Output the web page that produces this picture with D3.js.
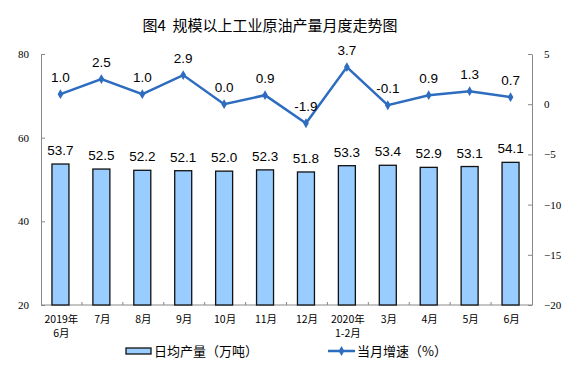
<!DOCTYPE html>
<html lang="zh">
<head>
  <meta charset="UTF-8">
  <title>规模以上工业原油产量月度走势图</title>
  <script src="https://d3js.org/d3.v7.min.js"></script>
  <style>
    body { margin: 0; background: #fff; }
    svg { display: block; }
  </style>
</head>
<body>
  <svg id="chart" width="576" height="384"></svg>
  <script>
    const months = [
      ["2019年", "6月"], ["7月"], ["8月"], ["9月"], ["10月"], ["11月"],
      ["12月"], ["2020年", "1-2月"], ["3月"], ["4月"], ["5月"], ["6月"]
    ];
    const output = [53.7, 52.5, 52.2, 52.1, 52.0, 52.3, 51.8, 53.3, 53.4, 52.9, 53.1, 54.1];
    const growth = [1.0, 2.5, 1.0, 2.9, 0.0, 0.9, -1.9, 3.7, -0.1, 0.9, 1.3, 0.7];
    const leftTicks = [20, 40, 60, 80];
    const rightTicks = [5, 0, -5, -10, -15, -20];

    const margin = { top: 54, right: 44, bottom: 79, left: 41 },
          width = 576 - margin.left - margin.right,
          height = 384 - margin.top - margin.bottom;

    const svg = d3.select("#chart");
    const g = svg.append("g")
      .attr("transform", `translate(${margin.left},${margin.top})`);

    const cjk = "'Noto Sans CJK SC', 'Noto Sans', sans-serif";
    const serif = "'Liberation Serif', 'DejaVu Serif', serif";
    const sans = "'Liberation Sans', Arial, sans-serif";
    const lineColor = "#2d6cbf";

    svg.append("text")
      .attr("x", 270)
      .attr("y", 31)
      .attr("text-anchor", "middle")
      .attr("font-family", cjk)
      .attr("font-size", "15px")
      .attr("fill", "#000")
      .text("图4\u00a0\u00a0规模以上工业原油产量月度走势图");

    const x = d3.scaleBand()
      .domain(d3.range(months.length))
      .range([0, width]);

    const yL = d3.scaleLinear().domain([20, 80]).range([height, 0]);
    const yR = d3.scaleLinear().domain([-20, 5]).range([height, 0]);

    // left axis
    const axL = g.append("g")
      .call(d3.axisLeft(yL).tickValues(leftTicks).tickSize(-4).tickPadding(12).tickSizeOuter(0));
    axL.select(".domain").attr("stroke", "#888");
    axL.selectAll(".tick line").attr("stroke", "#888");
    axL.selectAll("text").attr("font-family", serif).attr("font-size", "11px").attr("fill", "#000");

    // right axis
    const axR = g.append("g")
      .attr("transform", `translate(${width},0)`)
      .call(d3.axisRight(yR).tickValues(rightTicks).tickSize(-4).tickPadding(12).tickSizeOuter(0));
    axR.select(".domain").attr("stroke", "#888");
    axR.selectAll(".tick line").attr("stroke", "#888");
    axR.selectAll("text").attr("font-family", serif).attr("font-size", "11px").attr("fill", "#000");

    // bottom axis line with boundary ticks
    g.append("line")
      .attr("x1", 0).attr("x2", width)
      .attr("y1", height).attr("y2", height)
      .attr("stroke", "#888");
    g.selectAll(".btick")
      .data(d3.range(1, months.length))
      .join("line")
      .attr("x1", d => x(d)).attr("x2", d => x(d))
      .attr("y1", height).attr("y2", height - 3)
      .attr("stroke", "#888");

    // category labels, one text per line
    months.forEach((d, i) => {
      d.forEach((s, j) => {
        g.append("text")
          .attr("x", x(i) + x.bandwidth() / 2)
          .attr("y", height + 18 + j * 14)
          .attr("text-anchor", "middle")
          .attr("font-family", cjk)
          .attr("font-size", "10.5px")
          .attr("fill", "#000")
          .text(s);
      });
    });

    // bars
    const barW = 17;
    g.selectAll(".bar")
      .data(output)
      .join("rect")
      .attr("x", (d, i) => x(i) + x.bandwidth() / 2 - barW / 2 - 1)
      .attr("y", d => yL(d))
      .attr("width", barW)
      .attr("height", d => height - yL(d))
      .attr("fill", "#99ccff")
      .attr("stroke", "#111")
      .attr("stroke-width", 1.3);

    g.selectAll(".blab")
      .data(output)
      .join("text")
      .attr("x", (d, i) => x(i) + x.bandwidth() / 2 - 1)
      .attr("y", d => yL(d) - 9)
      .attr("text-anchor", "middle")
      .attr("font-family", sans)
      .attr("font-size", "13.5px")
      .attr("fill", "#000")
      .text(d => d.toFixed(1));

    // growth line
    const line = d3.line()
      .x((d, i) => x(i) + x.bandwidth() / 2 - 1)
      .y(d => yR(d));

    g.append("path")
      .datum(growth)
      .attr("d", line)
      .attr("fill", "none")
      .attr("stroke", lineColor)
      .attr("stroke-width", 2.5);

    const diamond = d3.symbol().type(d3.symbolDiamond).size(28);
    g.selectAll(".pt")
      .data(growth)
      .join("path")
      .attr("d", diamond)
      .attr("transform", (d, i) => `translate(${x(i) + x.bandwidth() / 2 - 1},${yR(d)})`)
      .attr("fill", lineColor);

    g.selectAll(".glab")
      .data(growth)
      .join("text")
      .attr("x", (d, i) => x(i) + x.bandwidth() / 2 - 1)
      .attr("y", d => yR(d) - 12)
      .attr("text-anchor", "middle")
      .attr("font-family", sans)
      .attr("font-size", "13.5px")
      .attr("fill", "#000")
      .text(d => d.toFixed(1));

    // legend
    const leg = svg.append("g");
    leg.append("rect")
      .attr("x", 126).attr("y", 348)
      .attr("width", 25).attr("height", 6)
      .attr("fill", "#99ccff")
      .attr("stroke", "#111")
      .attr("stroke-width", 1.3);
    leg.append("text")
      .attr("x", 154).attr("y", 356)
      .attr("font-family", cjk)
      .attr("font-size", "13px")
      .attr("fill", "#000")
      .text("日均产量（万吨）");

    leg.append("line")
      .attr("x1", 328).attr("x2", 355)
      .attr("y1", 351).attr("y2", 351)
      .attr("stroke", lineColor)
      .attr("stroke-width", 2.5);
    leg.append("path")
      .attr("d", diamond)
      .attr("transform", "translate(341.5,351)")
      .attr("fill", lineColor);
    leg.append("text")
      .attr("x", 357).attr("y", 356)
      .attr("font-family", cjk)
      .attr("font-size", "13px")
      .attr("fill", "#000")
      .text("当月增速（%）");
  </script>
</body>
</html>
